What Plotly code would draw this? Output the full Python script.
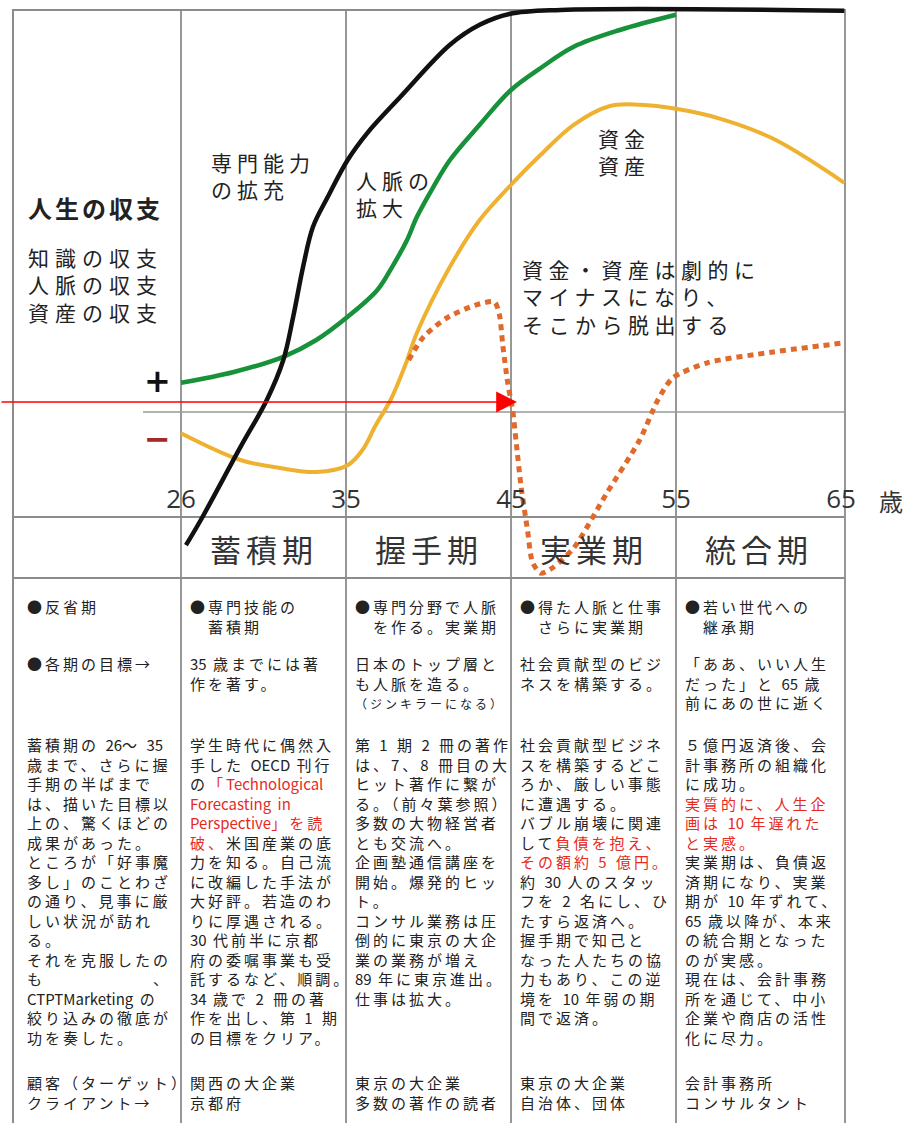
import re
import plotly.graph_objects as go

# ---------------- data ----------------
period_ticks = [0, 1, 2, 3, 4]
age_labels = ["26", "35", "45", "55", "65"]
stage_names = ["蓄積期", "握手期", "実業期", "統合期"]

# 専門能力の拡充 (black)
expertise_x = [0.03, 0.12, 0.36, 0.52, 0.62, 0.68, 0.74, 0.80, 0.89, 1.01, 1.13, 1.33, 1.63, 1.81, 1.99, 2.30, 4.02]
expertise_y = [-33.3, -27.0, -8.8, 3.0, 13.0, 23.8, 36.3, 46.3, 53.8, 63.0, 69.8, 78.8, 91.8, 96.8, 99.5, 100.5, 100.3]

# 人脈の拡大 (green)
network_x = [0.0, 0.32, 0.62, 0.82, 1.01, 1.19, 1.28, 1.37, 1.43, 1.53, 1.63, 1.81, 2.0, 2.18, 2.38, 2.66, 3.0]
network_y = [7.3, 10.0, 13.8, 18.0, 23.8, 30.5, 36.3, 43.0, 48.8, 56.3, 63.0, 71.8, 80.5, 86.0, 91.3, 95.5, 99.3]

# 資金・資産 (planned, yellow)
assets_x = [0.0, 0.36, 0.60, 0.82, 1.01, 1.10, 1.18, 1.27, 1.36, 1.43, 1.63, 1.81, 2.0, 2.18, 2.38, 2.60, 2.78, 3.0, 3.27, 3.59, 4.02]
assets_y = [-5.3, -12.0, -14.0, -15.0, -13.3, -9.5, -3.3, 3.0, 11.8, 19.8, 36.3, 48.0, 56.8, 64.3, 71.8, 76.5, 76.8, 75.8, 73.3, 68.3, 57.3]

# 資金・資産 (actual, dotted orange)
actual_x = [1.38, 1.47, 1.61, 1.79, 1.90, 1.93, 1.95, 1.98, 2.01, 2.03, 2.06, 2.10, 2.13, 2.18, 2.25, 2.38, 2.58, 2.78, 2.89, 2.98, 3.19, 3.59, 4.02]
actual_y = [13.0, 18.8, 23.5, 26.8, 27.5, 24.3, 16.8, 7.3, 0.5, -7.0, -18.3, -29.5, -37.5, -40.3, -39.0, -34.0, -20.3, -7.0, 3.0, 8.5, 12.3, 15.0, 17.3]

RED = "#e62a1e"
def red(s):
    return f'<span style="color:{RED}">{s}</span>'

col_heads = [
    ["●反省期"],
    ["●専門技能の", "　蓄積期"],
    ["●専門分野で人脈", "　を作る。実業期"],
    ["●得た人脈と仕事", "　さらに実業期"],
    ["●若い世代への", "　継承期"],
]
col_goals = [
    ["●各期の目標→"],
    ["35 歳までには著", "作を著す。"],
    ["日本のトップ層と", "も人脈を造る。", '<span style="font-size:12px">（ジンキラーになる）</span>'],
    ["社会貢献型のビジ", "ネスを構築する。"],
    ["「ああ、いい人生", "だった」と 65 歳", "前にあの世に逝く"],
]
col_bodies = [
    ["蓄積期の 26～ 35", "歳まで、さらに握", "手期の半ばまで", "は、描いた目標以", "上の、驚くほどの",
     "成果があった。", "ところが「好事魔", "多し」のことわざ", "の通り、見事に厳", "しい状況が訪れ",
     "る。", "それを克服したの", "も　　　　　　、", "CTPTMarketing の", "絞り込みの徹底が", "功を奏した。"],
    ["学生時代に偶然入", "手した OECD 刊行", "の" + red("「Technological"), red("Forecasting in"),
     red("Perspective」を読"), red("破、") + "米国産業の底", "力を知る。自己流", "に改編した手法が",
     "大好評。若造のわ", "りに厚遇される。", "30 代前半に京都", "府の委嘱事業も受", "託するなど、順調。",
     "34 歳で 2 冊の著", "作を出し、第 1 期", "の目標をクリア。"],
    ["第 1 期 2 冊の著作", "は、7、8 冊目の大", "ヒット著作に繋が", "る。（前々葉参照）", "多数の大物経営者",
     "とも交流へ。", "企画塾通信講座を", "開始。爆発的ヒッ", "ト。", "コンサル業務は圧",
     "倒的に東京の大企", "業の業務が増え", "89 年に東京進出。", "仕事は拡大。"],
    ["社会貢献型ビジネ", "スを構築するどこ", "ろか、厳しい事態", "に遭遇する。", "バブル崩壊に関連",
     "して" + red("負債を抱え、"), red("その額約 5 億円。"), "約 30 人のスタッ", "フを 2 名にし、ひ",
     "たすら返済へ。", "握手期で知己と", "なった人たちの協", "力もあり、この逆", "境を 10 年弱の期", "間で返済。"],
    ["５億円返済後、会", "計事務所の組織化", "に成功。", red("実質的に、人生企"), red("画は 10 年遅れた"),
     red("と実感。"), "実業期は、負債返", "済期になり、実業", "期が 10 年ずれて、", "65 歳以降が、本来",
     "の統合期となった", "のが実感。", "現在は、会計事務", "所を通じて、中小", "企業や商店の活性", "化に尽力。"],
]
col_clients = [
    ["顧客（ターゲット）", "クライアント→"],
    ["関西の大企業", "京都府"],
    ["東京の大企業", "多数の著作の読者"],
    ["東京の大企業", "自治体、団体"],
    ["会計事務所", "コンサルタント"],
]

# ---------------- layout helpers (pixel -> data) ----------------
W, H = 908, 1123
X0, XS = 181, 165      # pixel of period 0, pixels per period
Y0, YS = 412, 4        # pixel of zero balance, pixels per unit

def dx(p):
    return (p - X0) / XS

def dy(p):
    return (Y0 - p) / YS

JP = "Noto Sans CJK JP"
fig = go.Figure()

fig.add_trace(go.Scatter(x=assets_x, y=assets_y, mode="lines",
                         line=dict(color="#efb130", width=4, shape="spline", smoothing=1.0), hoverinfo="skip"))
fig.add_trace(go.Scatter(x=network_x, y=network_y, mode="lines",
                         line=dict(color="#17913a", width=4.5, shape="spline", smoothing=1.0), hoverinfo="skip"))
fig.add_trace(go.Scatter(x=expertise_x, y=expertise_y, mode="lines",
                         line=dict(color="#111111", width=4.5, shape="spline", smoothing=1.0), hoverinfo="skip"))
fig.add_trace(go.Scatter(x=actual_x, y=actual_y, mode="lines",
                         line=dict(color="#e06a2c", width=5, dash="6px,5px", shape="spline", smoothing=0.7),
                         hoverinfo="skip"))

GRAY = "#8c8c8c"
shapes = []
def seg(x0, y0, x1, y1, w=2, c=GRAY):
    shapes.append(dict(type="line", xref="x", yref="y", x0=dx(x0), y0=dy(y0), x1=dx(x1), y1=dy(y1),
                       line=dict(color=c, width=w), layer="below"))

# frame & table
seg(13, 10, 845, 10)
seg(13, 9, 13, H)
for p in [181, 346, 511, 676, 845]:
    seg(p, 9, p, H, w=1.8)
seg(143, 412, 845, 412, w=1.6, c="#999999")
seg(13, 517, 845, 517)
seg(13, 578, 845, 578)

def tight_latin(s):
    parts = re.split(r"(<[^>]+>)", s)
    out = []
    for p in parts:
        if p.startswith("<"):
            out.append(p)
        else:
            out.append(re.sub(r"([A-Za-z]{2,}|[0-9]{2,})",
                              r'<span style="letter-spacing:0px">\1</span>', p))
    return "".join(out)

ann = []
def txt(x, y, lines, size=17, color="#222222", anchor="left", family=JP, bold=False, ls=0, yanchor="middle"):
    s = "<br>".join(lines) if isinstance(lines, list) else lines
    if ls:
        s = f'<span style="letter-spacing:{ls}px">{tight_latin(s)}</span>'
    if bold:
        s = f"<b>{s}</b>"
    ann.append(dict(x=dx(x), y=dy(y), xref="x", yref="y", text=s, showarrow=False, align=anchor,
                    xanchor=anchor, yanchor=yanchor, font=dict(family=family, size=size, color=color)))

# left labels
txt(26, 207, "人生の収支", size=24, bold=True, ls=3)
txt(26, 284, ["知識の収支", "人脈の収支", "資産の収支"], size=21, ls=6)
txt(157, 381, "+", size=32, color="#111111", anchor="center", family="DejaVu Sans", bold=True)
txt(157, 439, "−", size=32, color="#a32a2a", anchor="center", family="DejaVu Sans", bold=True)

# curve labels
txt(209, 175, ["専門能力", "の拡充"], size=21, ls=5)
txt(354, 193, ["人脈の", "拡大"], size=21, ls=5)
txt(624, 151, ["資金", "資産"], size=21, ls=5, anchor="center")
txt(520, 296, ["資金・資産は劇的に", "マイナスになり、", "そこから脱出する"], size=21, ls=5.5)

# age unit
txt(877, 500, "歳", size=24, color="#333333")

# stage header row
for i, name in enumerate(stage_names):
    ann.append(dict(x=i + 0.5, y=dy(548), xref="x", yref="y",
                    text=f'<span style="letter-spacing:5px">{name}</span>', showarrow=False,
                    xanchor="center", yanchor="middle", font=dict(family=JP, size=31, color="#333333")))

# table text
col_left = [25, 188, 353, 518, 683]
block_top = [593.5, 650.5, 731.5, 1069.5]
for c in range(5):
    for bt, block in zip(block_top, [col_heads[c], col_goals[c], col_bodies[c], col_clients[c]]):
        txt(col_left[c], bt, block, size=15, ls=3.0, yanchor="top")

# red arrow
ann.append(dict(x=dx(517), y=dy(402), ax=dx(0), ay=dy(402), xref="x", yref="y", axref="x", ayref="y",
                text="", showarrow=True, arrowhead=2, arrowsize=2.6, arrowwidth=1.6, arrowcolor="#ff0000"))

fig.update_layout(
    width=W, height=H, margin=dict(l=0, r=0, t=0, b=0),
    paper_bgcolor="white", plot_bgcolor="white", showlegend=False,
    shapes=shapes, annotations=ann,
    xaxis=dict(range=[dx(0), dx(W)], tickvals=period_ticks, ticktext=age_labels,
               showgrid=False, zeroline=False, showline=False, ticks="",
               anchor="free", position=(H - 481) / H, side="bottom",
               tickfont=dict(family="Open Sans", size=26, color="#333333"), fixedrange=True),
    yaxis=dict(range=[dy(H), dy(0)], visible=False, fixedrange=True),
)

fig.write_html("out.html", config={"displayModeBar": False},
               post_script="document.body.style.margin='0';document.body.style.padding='0';")
